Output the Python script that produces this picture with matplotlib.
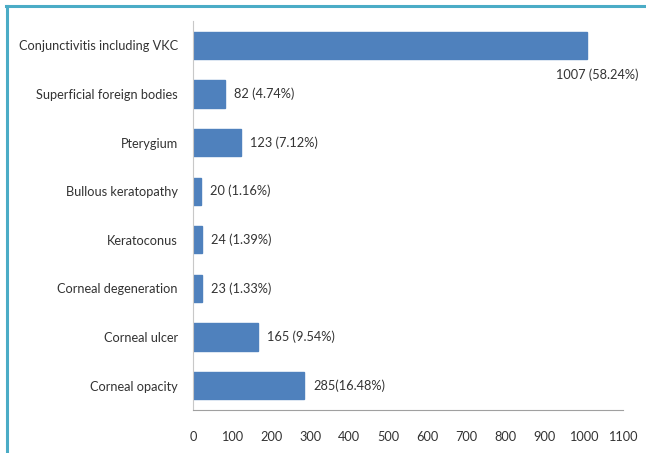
import matplotlib
matplotlib.use("Agg")
import matplotlib.pyplot as plt
from matplotlib.lines import Line2D

categories = ["Conjunctivitis including VKC", "Superficial foreign bodies", "Pterygium",
              "Bullous keratopathy", "Keratoconus", "Corneal degeneration",
              "Corneal ulcer", "Corneal opacity"]
values = [1007, 82, 123, 20, 24, 23, 165, 285]
labels = ["1007 (58.24%)", "82 (4.74%)", "123 (7.12%)", "20 (1.16%)", "24 (1.39%)",
          "23 (1.33%)", "165 (9.54%)", "285(16.48%)"]
xticks = list(range(0, 1101, 100))

plt.rcParams['font.family'] = ['Lato', 'DejaVu Sans']
W, H = 646, 453
fig = plt.figure(figsize=(W/100, H/100), dpi=100)
ax = fig.add_axes([193/W, 1-410/H, (623-193)/W, (410-21)/H])

pos = list(range(len(categories)))
ax.barh(pos, values, height=0.56, color='#4f81bd', edgecolor='#4f81bd')
ax.set_ylim(len(categories)-0.5, -0.5)
ax.set_xlim(0, 1100)
ax.set_xticks(xticks)
ax.set_xticklabels([str(t) for t in xticks])
ax.set_yticks(pos)
ax.set_yticklabels(categories)
FS = 9.2
ax.tick_params(axis='both', length=0, labelsize=FS, colors='#333333')
ax.tick_params(axis='x', pad=15)
ax.tick_params(axis='y', pad=11)
for s in ['top', 'right']:
    ax.spines[s].set_visible(False)
ax.spines['left'].set_color('#c8c8c8')
ax.spines['bottom'].set_color('#a0a0a0')

for i, (v, lab) in enumerate(zip(values, labels)):
    if i == 0:
        ax.annotate(lab, xy=(v, i), xytext=(37, -21.5), textcoords='offset points',
                    ha='right', va='center', fontsize=FS, color='#333333')
    else:
        ax.annotate(lab, xy=(v, i), xytext=(6.5, 0), textcoords='offset points',
                    ha='left', va='center', fontsize=FS, color='#333333')

# frame border
fig.add_artist(Line2D([6.5/W, 6.5/W], [0, 1-6/H], color='#4bacc6', lw=2.2, transform=fig.transFigure))
fig.add_artist(Line2D([5.5/W, 1], [1-6/H, 1-6/H], color='#4bacc6', lw=2.2, transform=fig.transFigure))

fig.savefig('out.png', dpi=100)
